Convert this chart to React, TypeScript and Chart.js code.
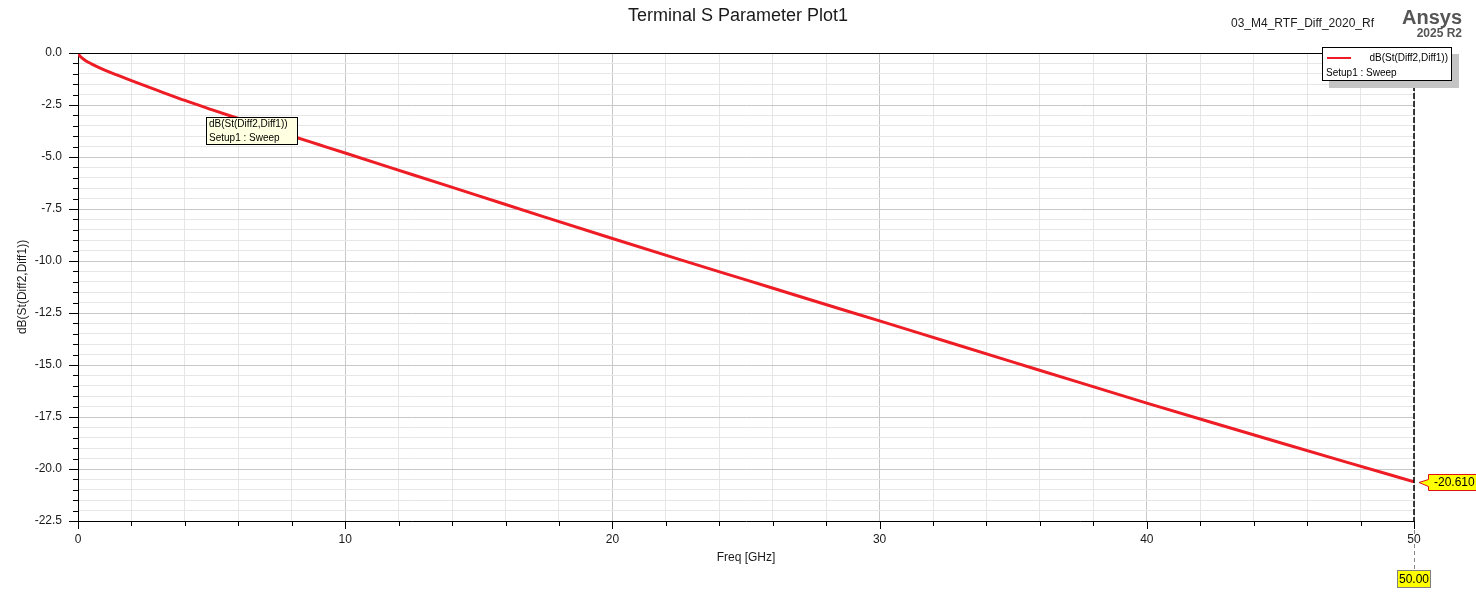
import React, { useEffect, useRef } from "react";
import { Chart, registerables } from "chart.js";

Chart.register(...registerables);

// ---- data ----
const freqGHz = [0, 0.05, 0.1, 0.2, 0.3, 0.5, 0.75, 1, 1.5, 2, 3, 4, 5, 6, 7, 8, 9, 10, 12.5, 15, 17.5, 20, 22.5, 25, 27.5, 30, 32.5, 35, 37.5, 40, 42.5, 45, 47.5, 50];
const s21dB = [0, -0.11, -0.18, -0.29, -0.38, -0.52, -0.68, -0.82, -1.08, -1.33, -1.81, -2.28, -2.72, -3.15, -3.57, -3.99, -4.4, -4.81, -5.84, -6.87, -7.9, -8.92, -9.92, -10.91, -11.9, -12.88, -13.87, -14.86, -15.85, -16.83, -17.79, -18.74, -19.68, -20.61];

const xMajorTicks = [0, 10, 20, 30, 40, 50];
const yMajorTicks = [0, -2.5, -5, -7.5, -10, -12.5, -15, -17.5, -20, -22.5];
const xMinorStep = 2;
const yMinorStep = 0.5;

const markerFreq = 50;
const markerValue = -20.61;
const markerFreqLabel = "50.00";
const markerValueLabel = "-20.610";

const chartTitle = "Terminal S Parameter Plot1";
const designName = "03_M4_RTF_Diff_2020_Rf";
const brandName = "Ansys";
const brandVersion = "2025 R2";
const traceName = "dB(St(Diff2,Diff1))";
const setupName = "Setup1 : Sweep";
const xTitle = "Freq [GHz]";
const yTitle = "dB(St(Diff2,Diff1))";

const FONT = "'Liberation Sans', Arial, sans-serif";
const RED = "#ee1c25";

const isMajor = (v: number, list: number[]) => list.some((m) => Math.abs(m - v) < 1e-6);

const buildTicks = (min: number, max: number, step: number) => {
  const out: { value: number }[] = [];
  const n = Math.round((max - min) / step);
  for (let i = 0; i <= n; i++) out.push({ value: +(min + i * step).toFixed(6) });
  return out;
};

const decorPlugin = {
  id: "decor",
  afterDraw(chart: any) {
    const { ctx, chartArea: a, scales } = chart;
    const x = scales.x;
    const y = scales.y;
    ctx.save();

    // top border
    ctx.strokeStyle = "#000";
    ctx.lineWidth = 1;
    ctx.beginPath();
    ctx.moveTo(a.left, a.top + 0.5);
    ctx.lineTo(a.right, a.top + 0.5);
    ctx.stroke();

    // tick marks
    ctx.beginPath();
    for (const t of y.ticks) {
      const py = Math.round(y.getPixelForValue(t.value)) + 0.5;
      const len = isMajor(t.value, yMajorTicks) ? 9 : 5;
      ctx.moveTo(a.left - len, py);
      ctx.lineTo(a.left, py);
    }
    for (const t of x.ticks) {
      const px = Math.round(x.getPixelForValue(t.value)) + 0.5;
      const len = isMajor(t.value, xMajorTicks) ? 8 : 5;
      ctx.moveTo(px, a.bottom);
      ctx.lineTo(px, a.bottom + len);
    }
    ctx.stroke();

    // marker vertical line
    const mx = Math.round(x.getPixelForValue(markerFreq));
    ctx.setLineDash([6, 2]);
    ctx.lineWidth = 1.5;
    ctx.strokeStyle = "#000";
    ctx.beginPath();
    ctx.moveTo(mx, a.top);
    ctx.lineTo(mx, a.bottom);
    ctx.stroke();
    ctx.setLineDash([4, 3]);
    ctx.lineWidth = 1;
    ctx.strokeStyle = "#888";
    ctx.beginPath();
    ctx.moveTo(mx + 0.5, a.bottom + 9);
    ctx.lineTo(mx + 0.5, 570);
    ctx.stroke();
    ctx.setLineDash([]);

    // marker freq box
    ctx.fillStyle = "#ffff00";
    ctx.fillRect(mx - 17, 570, 34, 18);
    ctx.strokeStyle = "#808080";
    ctx.strokeRect(mx - 16.5, 570.5, 33, 17);
    ctx.fillStyle = "#000";
    ctx.font = `12px ${FONT}`;
    ctx.textAlign = "center";
    ctx.textBaseline = "middle";
    ctx.fillText(markerFreqLabel, mx, 579.5);

    // marker value pointer box
    const my = Math.round(y.getPixelForValue(markerValue));
    const bx = mx + 14;
    ctx.beginPath();
    ctx.moveTo(bx + 0.5, my - 8 + 0.5);
    ctx.lineTo(1490, my - 8 + 0.5);
    ctx.lineTo(1490, my + 8 + 0.5);
    ctx.lineTo(bx + 0.5, my + 8 + 0.5);
    ctx.lineTo(bx + 0.5, my + 4 + 0.5);
    ctx.lineTo(mx + 5, my + 0.5);
    ctx.lineTo(bx + 0.5, my - 3 + 0.5);
    ctx.closePath();
    ctx.fillStyle = "#ffff00";
    ctx.fill();
    ctx.strokeStyle = "#e01010";
    ctx.lineWidth = 1;
    ctx.stroke();
    ctx.fillStyle = "#000";
    ctx.textAlign = "left";
    ctx.fillText(markerValueLabel, bx + 6, my + 1);

    // trace annotation
    ctx.fillStyle = "#ffffe1";
    ctx.fillRect(206, 117, 92, 28);
    ctx.strokeStyle = "#000";
    ctx.strokeRect(206.5, 117.5, 91, 27);
    ctx.fillStyle = "#000";
    ctx.font = `10px ${FONT}`;
    ctx.textAlign = "left";
    ctx.fillText(traceName, 209, 124.5);
    ctx.fillText(setupName, 209, 138);

    // legend with shadow
    ctx.fillStyle = "#c4c4c4";
    ctx.fillRect(1329, 54, 130, 34);
    ctx.fillStyle = "#fff";
    ctx.fillRect(1322, 47, 130, 34);
    ctx.strokeStyle = "#000";
    ctx.strokeRect(1322.5, 47.5, 129, 33);
    ctx.strokeStyle = RED;
    ctx.lineWidth = 2;
    ctx.beginPath();
    ctx.moveTo(1327, 58);
    ctx.lineTo(1351, 58);
    ctx.stroke();
    ctx.fillStyle = "#000";
    ctx.textAlign = "right";
    ctx.fillText(traceName, 1448, 58.5);
    ctx.textAlign = "left";
    ctx.fillText(setupName, 1326, 73);

    // titles
    ctx.fillStyle = "#1a1a1a";
    ctx.textAlign = "center";
    ctx.font = `18px ${FONT}`;
    ctx.fillText(chartTitle, 738, 16.5);
    ctx.textAlign = "left";
    ctx.font = `12px ${FONT}`;
    ctx.fillText(designName, 1231, 24);
    ctx.fillStyle = "#555";
    ctx.textAlign = "right";
    ctx.font = `bold 20px ${FONT}`;
    ctx.fillText(brandName, 1462, 18);
    ctx.font = `bold 12px ${FONT}`;
    ctx.fillText(brandVersion, 1462, 34);

    ctx.restore();
  },
};

export default function App() {
  const ref = useRef<HTMLCanvasElement | null>(null);

  useEffect(() => {
    if (!ref.current) return;
    const chart = new Chart(ref.current, {
      type: "line",
      data: {
        datasets: [
          {
            label: traceName,
            data: freqGHz.map((f, i) => ({ x: f, y: s21dB[i] })),
            borderColor: RED,
            backgroundColor: RED,
            borderWidth: 3,
            pointRadius: 0,
            cubicInterpolationMode: "monotone",
            fill: false,
          },
        ],
      },
      options: {
        responsive: false,
        animation: false,
        devicePixelRatio: 1,
        layout: { padding: { left: 0, right: 62, top: 53, bottom: 0 } },
        plugins: {
          legend: { display: false },
          title: { display: false },
          tooltip: { enabled: false },
        },
        scales: {
          x: {
            type: "linear",
            min: 0,
            max: 50,
            afterBuildTicks: (s: any) => {
              s.ticks = buildTicks(0, 50, xMinorStep);
            },
            afterFit: (s: any) => {
              s.height = 72;
            },
            ticks: {
              autoSkip: false,
              maxRotation: 0,
              padding: 11,
              color: "#1a1a1a",
              font: { family: FONT, size: 12 },
              callback: (v: any) => (isMajor(Number(v), xMajorTicks) ? String(Number(v)) : ""),
            },
            grid: {
              drawTicks: false,
              color: (c: any) => (isMajor(c.tick?.value, xMajorTicks) ? "#c8c8c8" : "#e6e6e6"),
              lineWidth: 1,
            },
            border: { display: true, color: "#000", width: 1 },
            title: {
              display: true,
              text: xTitle,
              color: "#1a1a1a",
              font: { family: FONT, size: 12 },
              padding: { top: 0, bottom: 28 },
            },
          },
          y: {
            type: "linear",
            min: -22.5,
            max: 0,
            afterBuildTicks: (s: any) => {
              s.ticks = buildTicks(-22.5, 0, yMinorStep);
            },
            afterFit: (s: any) => {
              s.width = 78;
            },
            ticks: {
              autoSkip: false,
              padding: 16,
              color: "#1a1a1a",
              font: { family: FONT, size: 12 },
              callback: (v: any) => (isMajor(Number(v), yMajorTicks) ? Number(v).toFixed(1) : ""),
            },
            grid: {
              drawTicks: false,
              color: (c: any) => (isMajor(c.tick?.value, yMajorTicks) ? "#c8c8c8" : "#e6e6e6"),
              lineWidth: 1,
            },
            border: { display: true, color: "#000", width: 1 },
            title: {
              display: true,
              text: yTitle,
              color: "#1a1a1a",
              font: { family: FONT, size: 12 },
              padding: { top: 15, bottom: 0 },
            },
          },
        },
      },
      plugins: [decorPlugin],
    } as any);
    return () => chart.destroy();
  }, []);

  return (
    <div style={{ position: "absolute", left: 0, top: 0, width: 1476, height: 593, background: "#fff" }}>
      <canvas ref={ref} width={1476} height={593} style={{ display: "block", width: 1476, height: 593 }} />
    </div>
  );
}
